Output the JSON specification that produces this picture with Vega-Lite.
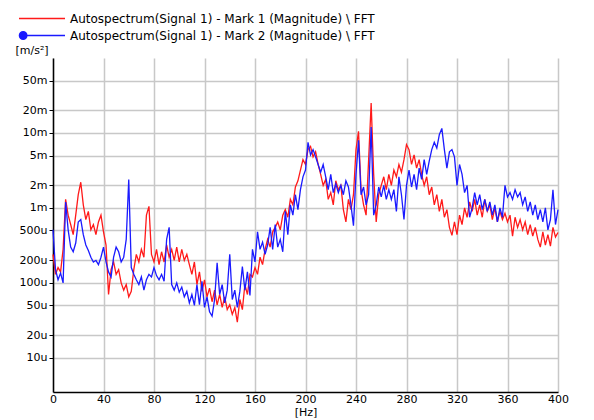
{
  "$schema": "https://vega.github.io/schema/vega-lite/v6.json",
  "width": 505,
  "height": 334,
  "autosize": {"type": "none"},
  "padding": {"left": 53, "top": 58, "right": 36, "bottom": 28},
  "background": "white",
  "config": {
    "font": "DejaVu Sans",
    "view": {"stroke": null},
    "axis": {
      "labelFont": "DejaVu Sans", "labelFontSize": 11, "labelColor": "#000",
      "titleFont": "DejaVu Sans", "titleFontSize": 11, "titleFontWeight": "normal", "titleColor": "#000",
      "domainColor": "#000", "domainWidth": 1.5, "tickColor": "#000", "tickSize": 4, "tickWidth": 1,
      "gridColor": "#c8c8c8", "gridWidth": 1.5, "gridOpacity": 1
    }
  },
  "data": {
    "values": [
      {"f":0,"Mark 1":2.4e-4,"Mark 2":5.1e-4},{"f":2,"Mark 1":1.3e-4,"Mark 2":1.5e-4},{"f":4,"Mark 1":1.6e-4,"Mark 2":1.1e-4},{"f":6,"Mark 1":1.4e-4,"Mark 2":1.35e-4},{"f":8,"Mark 1":2.8e-4,"Mark 2":1e-4},
      {"f":10,"Mark 1":1.3e-3,"Mark 2":1.2e-3},{"f":12,"Mark 1":8e-4,"Mark 2":5.1e-4},{"f":14,"Mark 1":6e-4,"Mark 2":3e-4},{"f":16,"Mark 1":4.4e-4,"Mark 2":2.6e-4},{"f":18,"Mark 1":8e-4,"Mark 2":3.4e-4},
      {"f":20,"Mark 1":1.5e-3,"Mark 2":6.5e-4},{"f":22,"Mark 1":2.2e-3,"Mark 2":7e-4},{"f":24,"Mark 1":1.1e-3,"Mark 2":4.4e-4},{"f":26,"Mark 1":7e-4,"Mark 2":3.2e-4},{"f":28,"Mark 1":9e-4,"Mark 2":2.7e-4},
      {"f":30,"Mark 1":5.1e-4,"Mark 2":2.2e-4},{"f":32,"Mark 1":6e-4,"Mark 2":1.9e-4},{"f":34,"Mark 1":4.4e-4,"Mark 2":2e-4},{"f":36,"Mark 1":6.5e-4,"Mark 2":1.75e-4},{"f":38,"Mark 1":8e-4,"Mark 2":2.2e-4},
      {"f":40,"Mark 1":4.8e-4,"Mark 2":3e-4},{"f":42,"Mark 1":3.2e-4,"Mark 2":1.9e-4},{"f":44,"Mark 1":7e-5,"Mark 2":1.4e-4},{"f":46,"Mark 1":1.5e-4,"Mark 2":1.2e-4},{"f":48,"Mark 1":1.9e-4,"Mark 2":2.2e-4},
      {"f":50,"Mark 1":1.3e-4,"Mark 2":3e-4},{"f":52,"Mark 1":1.5e-4,"Mark 2":2.6e-4},{"f":54,"Mark 1":1e-4,"Mark 2":1.9e-4},{"f":56,"Mark 1":8e-5,"Mark 2":2.2e-4},{"f":58,"Mark 1":9.5e-5,"Mark 2":3.8e-4},
      {"f":60,"Mark 1":6.5e-5,"Mark 2":2.4e-3},{"f":62,"Mark 1":7.7e-5,"Mark 2":1.6e-4},{"f":64,"Mark 1":1.5e-4,"Mark 2":1.3e-4},{"f":66,"Mark 1":2.4e-4,"Mark 2":1.1e-4},{"f":68,"Mark 1":1.9e-4,"Mark 2":9.5e-5},
      {"f":70,"Mark 1":2.8e-4,"Mark 2":1.2e-4},{"f":72,"Mark 1":2.2e-4,"Mark 2":8e-5},{"f":74,"Mark 1":8e-4,"Mark 2":1.1e-4},{"f":76,"Mark 1":1.05e-3,"Mark 2":1.3e-4},{"f":78,"Mark 1":2.4e-4,"Mark 2":1.2e-4},
      {"f":80,"Mark 1":1.9e-4,"Mark 2":1.6e-4},{"f":82,"Mark 1":2.8e-4,"Mark 2":1.25e-4},{"f":84,"Mark 1":1.75e-4,"Mark 2":1.1e-4},{"f":86,"Mark 1":2.6e-4,"Mark 2":1.3e-4},{"f":88,"Mark 1":1.9e-4,"Mark 2":1.05e-4},
      {"f":90,"Mark 1":3.2e-4,"Mark 2":3.8e-4},{"f":92,"Mark 1":2.2e-4,"Mark 2":5.5e-4},{"f":94,"Mark 1":2.8e-4,"Mark 2":9.5e-5},{"f":96,"Mark 1":2e-4,"Mark 2":8e-5},{"f":98,"Mark 1":3e-4,"Mark 2":1e-4},
      {"f":100,"Mark 1":1.9e-4,"Mark 2":7.5e-5},{"f":102,"Mark 1":2.8e-4,"Mark 2":8.8e-5},{"f":104,"Mark 1":2e-4,"Mark 2":6.5e-5},{"f":106,"Mark 1":2.4e-4,"Mark 2":7.7e-5},{"f":108,"Mark 1":1.75e-4,"Mark 2":5.4e-5},
      {"f":110,"Mark 1":1.3e-4,"Mark 2":7e-5},{"f":112,"Mark 1":1.9e-4,"Mark 2":5e-5},{"f":114,"Mark 1":9.5e-5,"Mark 2":9.5e-5},{"f":116,"Mark 1":1.4e-4,"Mark 2":5.1e-5},{"f":118,"Mark 1":7.7e-5,"Mark 2":1.05e-4},
      {"f":120,"Mark 1":1.1e-4,"Mark 2":4.7e-5},{"f":122,"Mark 1":6.5e-5,"Mark 2":6.5e-5},{"f":124,"Mark 1":8.5e-5,"Mark 2":4.1e-5},{"f":126,"Mark 1":5.6e-5,"Mark 2":3.6e-5},{"f":128,"Mark 1":8e-5,"Mark 2":6e-5},
      {"f":130,"Mark 1":5.1e-5,"Mark 2":1.85e-4},{"f":132,"Mark 1":7e-5,"Mark 2":7e-5},{"f":134,"Mark 1":4.7e-5,"Mark 2":9.5e-5},{"f":136,"Mark 1":6.5e-5,"Mark 2":5.4e-5},{"f":138,"Mark 1":4.4e-5,"Mark 2":8e-5},
      {"f":140,"Mark 1":5.1e-5,"Mark 2":2.4e-4},{"f":142,"Mark 1":3.8e-5,"Mark 2":6e-5},{"f":144,"Mark 1":4.7e-5,"Mark 2":8e-5},{"f":146,"Mark 1":3e-5,"Mark 2":4.7e-5},{"f":148,"Mark 1":6e-5,"Mark 2":7.7e-5},
      {"f":150,"Mark 1":4.4e-5,"Mark 2":1.65e-4},{"f":152,"Mark 1":9.5e-5,"Mark 2":8e-5},{"f":154,"Mark 1":7e-5,"Mark 2":1.4e-4},{"f":156,"Mark 1":1.3e-4,"Mark 2":6.8e-5},{"f":158,"Mark 1":1.2e-4,"Mark 2":2.8e-4},
      {"f":160,"Mark 1":1.6e-4,"Mark 2":1.9e-4},{"f":162,"Mark 1":1.3e-4,"Mark 2":4.8e-4},{"f":164,"Mark 1":2.2e-4,"Mark 2":2.8e-4},{"f":166,"Mark 1":1.75e-4,"Mark 2":3.5e-4},{"f":168,"Mark 1":2.8e-4,"Mark 2":2.4e-4},
      {"f":170,"Mark 1":3.8e-4,"Mark 2":3.2e-4},{"f":172,"Mark 1":3e-4,"Mark 2":5.5e-4},{"f":174,"Mark 1":4.8e-4,"Mark 2":2.8e-4},{"f":176,"Mark 1":5.5e-4,"Mark 2":6e-4},{"f":178,"Mark 1":6.5e-4,"Mark 2":3e-4},
      {"f":180,"Mark 1":5.1e-4,"Mark 2":3.8e-4},{"f":182,"Mark 1":8e-4,"Mark 2":2.6e-4},{"f":184,"Mark 1":9.5e-4,"Mark 2":9e-4},{"f":186,"Mark 1":7.5e-4,"Mark 2":4.4e-4},{"f":188,"Mark 1":1.3e-3,"Mark 2":1.1e-3},
      {"f":190,"Mark 1":1.1e-3,"Mark 2":8e-4},{"f":192,"Mark 1":1.9e-3,"Mark 2":1.5e-3},{"f":194,"Mark 1":2.3e-3,"Mark 2":9.5e-4},{"f":196,"Mark 1":3.2e-3,"Mark 2":1.75e-3},{"f":198,"Mark 1":4.4e-3,"Mark 2":2.6e-3},
      {"f":200,"Mark 1":3.8e-3,"Mark 2":3.2e-3},{"f":202,"Mark 1":6e-3,"Mark 2":7.5e-3},{"f":204,"Mark 1":6.6e-3,"Mark 2":5.1e-3},{"f":206,"Mark 1":4.8e-3,"Mark 2":6e-3},{"f":208,"Mark 1":5.6e-3,"Mark 2":4.8e-3},
      {"f":210,"Mark 1":3.8e-3,"Mark 2":3.8e-3},{"f":212,"Mark 1":2.8e-3,"Mark 2":3e-3},{"f":214,"Mark 1":2e-3,"Mark 2":3.8e-3},{"f":216,"Mark 1":2.4e-3,"Mark 2":2.6e-3},{"f":218,"Mark 1":1.3e-3,"Mark 2":1.75e-3},
      {"f":220,"Mark 1":1.6e-3,"Mark 2":2.8e-3},{"f":222,"Mark 1":1.1e-3,"Mark 2":1.6e-3},{"f":224,"Mark 1":2.3e-3,"Mark 2":2.1e-3},{"f":226,"Mark 1":1.75e-3,"Mark 2":1.6e-3},{"f":228,"Mark 1":2e-3,"Mark 2":2e-3},
      {"f":230,"Mark 1":9.5e-4,"Mark 2":1.5e-3},{"f":232,"Mark 1":6.5e-4,"Mark 2":2.3e-3},{"f":234,"Mark 1":1.3e-3,"Mark 2":1.9e-3},{"f":236,"Mark 1":9.5e-4,"Mark 2":1.1e-3},{"f":238,"Mark 1":1.5e-3,"Mark 2":5.8e-4},
      {"f":240,"Mark 1":6e-3,"Mark 2":2.8e-3},{"f":242,"Mark 1":1.05e-2,"Mark 2":8e-3},{"f":244,"Mark 1":1.75e-3,"Mark 2":1.5e-3},{"f":246,"Mark 1":1.1e-3,"Mark 2":1.9e-3},{"f":248,"Mark 1":8e-4,"Mark 2":1.1e-3},
      {"f":250,"Mark 1":4.4e-3,"Mark 2":1.5e-3},{"f":252,"Mark 1":2.5e-2,"Mark 2":1.2e-2},{"f":254,"Mark 1":2.8e-3,"Mark 2":8e-4},{"f":256,"Mark 1":6.5e-4,"Mark 2":1.1e-3},{"f":258,"Mark 1":1.5e-3,"Mark 2":1.9e-3},
      {"f":260,"Mark 1":2e-3,"Mark 2":1.4e-3},{"f":262,"Mark 1":2.6e-3,"Mark 2":2e-3},{"f":264,"Mark 1":1.75e-3,"Mark 2":1.3e-3},{"f":266,"Mark 1":2.8e-3,"Mark 2":1.75e-3},{"f":268,"Mark 1":2e-3,"Mark 2":1.3e-3},
      {"f":270,"Mark 1":3.2e-3,"Mark 2":1.75e-3},{"f":272,"Mark 1":2.6e-3,"Mark 2":9e-4},{"f":274,"Mark 1":3.8e-3,"Mark 2":2.6e-3},{"f":276,"Mark 1":3e-3,"Mark 2":1.5e-3},{"f":278,"Mark 1":4.4e-3,"Mark 2":7e-4},
      {"f":280,"Mark 1":7e-3,"Mark 2":2e-3},{"f":282,"Mark 1":6e-3,"Mark 2":3.2e-3},{"f":284,"Mark 1":3.8e-3,"Mark 2":1.9e-3},{"f":286,"Mark 1":5.1e-3,"Mark 2":2.8e-3},{"f":288,"Mark 1":3.4e-3,"Mark 2":1.75e-3},
      {"f":290,"Mark 1":4.4e-3,"Mark 2":3.4e-3},{"f":292,"Mark 1":2.8e-3,"Mark 2":2.4e-3},{"f":294,"Mark 1":2e-3,"Mark 2":4.4e-3},{"f":296,"Mark 1":2.6e-3,"Mark 2":2.8e-3},{"f":298,"Mark 1":1.5e-3,"Mark 2":4.2e-3},
      {"f":300,"Mark 1":1.9e-3,"Mark 2":6e-3},{"f":302,"Mark 1":1.1e-3,"Mark 2":7.5e-3},{"f":304,"Mark 1":1.5e-3,"Mark 2":6.3e-3},{"f":306,"Mark 1":9e-4,"Mark 2":9.5e-3},{"f":308,"Mark 1":1.3e-3,"Mark 2":1.15e-2},
      {"f":310,"Mark 1":7.5e-4,"Mark 2":6e-3},{"f":312,"Mark 1":9.5e-4,"Mark 2":3.4e-3},{"f":314,"Mark 1":5.5e-4,"Mark 2":5.6e-3},{"f":316,"Mark 1":4.3e-4,"Mark 2":6e-3},{"f":318,"Mark 1":6.5e-4,"Mark 2":4.8e-3},
      {"f":320,"Mark 1":4.4e-4,"Mark 2":2e-3},{"f":322,"Mark 1":8e-4,"Mark 2":3.8e-3},{"f":324,"Mark 1":6e-4,"Mark 2":2.8e-3},{"f":326,"Mark 1":1e-3,"Mark 2":1.6e-3},{"f":328,"Mark 1":7.5e-4,"Mark 2":2e-3},
      {"f":330,"Mark 1":1.2e-3,"Mark 2":7.5e-4},{"f":332,"Mark 1":9e-4,"Mark 2":1e-3},{"f":334,"Mark 1":1.3e-3,"Mark 2":1.6e-3},{"f":336,"Mark 1":8e-4,"Mark 2":1.1e-3},{"f":338,"Mark 1":1.1e-3,"Mark 2":1.5e-3},
      {"f":340,"Mark 1":7.5e-4,"Mark 2":9.5e-4},{"f":342,"Mark 1":1.3e-3,"Mark 2":1.3e-3},{"f":344,"Mark 1":9e-4,"Mark 2":9e-4},{"f":346,"Mark 1":1.1e-3,"Mark 2":1.2e-3},{"f":348,"Mark 1":7e-4,"Mark 2":8e-4},
      {"f":350,"Mark 1":1e-3,"Mark 2":1.1e-3},{"f":352,"Mark 1":6.5e-4,"Mark 2":6.5e-4},{"f":354,"Mark 1":9e-4,"Mark 2":1e-3},{"f":356,"Mark 1":7e-4,"Mark 2":7.5e-4},{"f":358,"Mark 1":8.5e-4,"Mark 2":2e-3},
      {"f":360,"Mark 1":6.5e-4,"Mark 2":1.4e-3},{"f":362,"Mark 1":8e-4,"Mark 2":1.6e-3},{"f":364,"Mark 1":4.2e-4,"Mark 2":1.3e-3},{"f":366,"Mark 1":7.5e-4,"Mark 2":1.75e-3},{"f":368,"Mark 1":5.5e-4,"Mark 2":1.4e-3},
      {"f":370,"Mark 1":7e-4,"Mark 2":1.6e-3},{"f":372,"Mark 1":5.1e-4,"Mark 2":1.1e-3},{"f":374,"Mark 1":6.5e-4,"Mark 2":1.4e-3},{"f":376,"Mark 1":4.4e-4,"Mark 2":9e-4},{"f":378,"Mark 1":6e-4,"Mark 2":1.2e-3},
      {"f":380,"Mark 1":4.2e-4,"Mark 2":8e-4},{"f":382,"Mark 1":5.5e-4,"Mark 2":1.1e-3},{"f":384,"Mark 1":3.8e-4,"Mark 2":7e-4},{"f":386,"Mark 1":3e-4,"Mark 2":9.5e-4},{"f":388,"Mark 1":4.8e-4,"Mark 2":6.5e-4},
      {"f":390,"Mark 1":3.2e-4,"Mark 2":1e-3},{"f":392,"Mark 1":4.4e-4,"Mark 2":5.1e-4},{"f":394,"Mark 1":3.1e-4,"Mark 2":7e-4},{"f":396,"Mark 1":5.5e-4,"Mark 2":1.75e-3},{"f":398,"Mark 1":4.1e-4,"Mark 2":6e-4},
      {"f":400,"Mark 1":4.7e-4,"Mark 2":9.5e-4}
    ]
  },
  "transform": [{"fold": ["Mark 1", "Mark 2"], "as": ["series", "value"]}],
  "mark": {"type": "line", "strokeWidth": 1.3, "interpolate": "linear"},
  "encoding": {
    "x": {
      "field": "f", "type": "quantitative",
      "scale": {"domain": [0, 400], "nice": false, "zero": false},
      "axis": {"values": [0,40,80,120,160,200,240,280,320,360,400], "title": "[Hz]", "ticks": false, "titleY": 14, "titleBaseline": "top", "labelPadding": 1, "labelFlush": false}
    },
    "y": {
      "field": "value", "type": "quantitative",
      "scale": {"type": "log", "domain": [3.5e-6, 0.1], "nice": false},
      "axis": {
        "values": [1e-5,2e-5,5e-5,1e-4,2e-4,5e-4,1e-3,2e-3,5e-3,1e-2,2e-2,5e-2],
        "labelExpr": "datum.value >= 0.00099 ? format(datum.value*1000,'.0f')+'m' : format(datum.value*1000000,'.0f')+'u'",
        "title": "[m/s²]", "titleAngle": 0, "titleX": -38, "titleY": -8, "titleAlign": "left", "titleBaseline": "middle",
        "labelPadding": 2
      }
    },
    "color": {
      "field": "series", "type": "nominal",
      "scale": {"domain": ["Mark 1", "Mark 2"], "range": ["#ff1a1a", "#1a1aff"]},
      "legend": {
        "title": null, "orient": "none", "legendX": -35, "legendY": -47, "direction": "vertical",
        "padding": 0, "symbolSize": 2116, "clipHeight": 15, "rowPadding": 2, "labelOffset": 4,
        "symbolStrokeWidth": 1.5, "labelFont": "DejaVu Sans", "labelFontSize": 12, "labelColor": "#000", "labelLimit": 520,
        "labelExpr": "'Autospectrum(Signal 1) - ' + datum.label + ' (Magnitude) \\\\ FFT'",
        "encode": {
          "symbols": {
            "update": {
              "shape": {"signal": "datum.value === 'Mark 2' ? 'M-1,0L1,0M-0.98,0a0.16,0.16 0 1,0 0.32,0a0.16,0.16 0 1,0 -0.32,0' : 'M-1,0L1,0'"},
              "fill": {"signal": "datum.value === 'Mark 2' ? '#1a1aff' : 'transparent'"}
            }
          }
        }
      }
    }
  }
}
